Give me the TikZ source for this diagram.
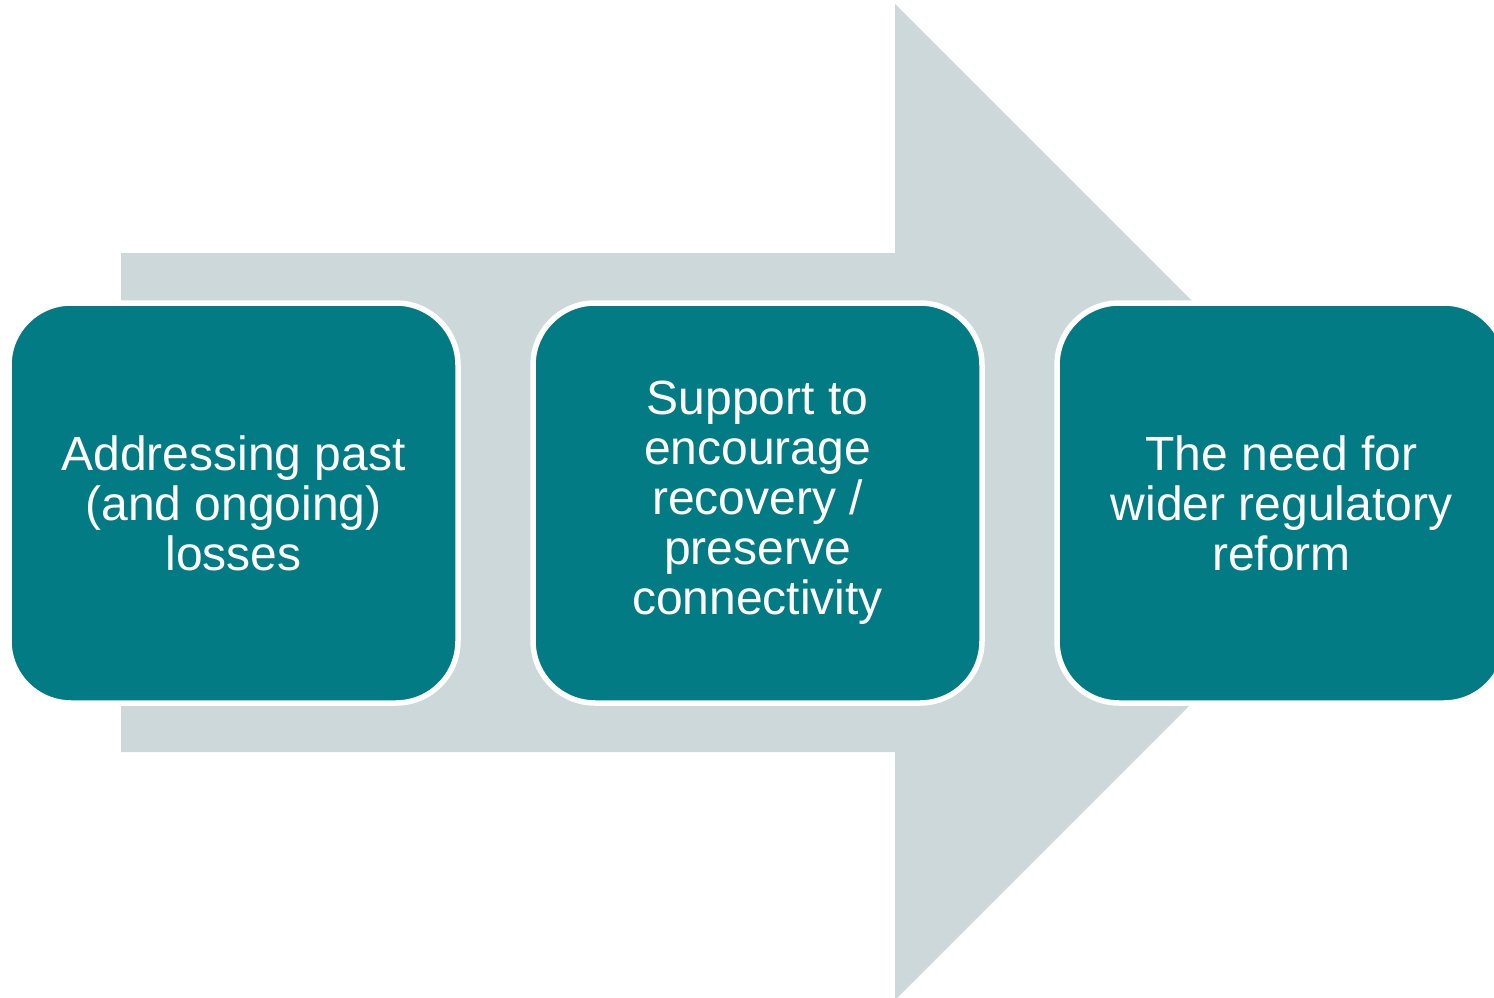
\documentclass[tikz,border=0pt]{standalone}
\usepackage{fontspec}
\setmainfont{Liberation Sans}
\definecolor{stageteal}{HTML}{027B85}
\definecolor{arrowgrey}{HTML}{CDD8DA}
\begin{document}
\begin{tikzpicture}[x=1pt,y=-1pt,
  stagebox/.style={rectangle, rounded corners=62pt, fill=stageteal, draw=white,
    line width=5.5pt, minimum width=449pt, minimum height=400pt,
    inner sep=0pt, align=center, text=white,
    font=\fontsize{48}{50}\selectfont}]
  \useasboundingbox (0,0) rectangle (1494,998);
  \clip (0,0) rectangle (1494,998);
  % big block arrow behind the stages
  \fill[arrowgrey] (121,253) -- (895,253) -- (895,4) -- (1393,502)
    -- (895,1000) -- (895,752) -- (121,752) -- cycle;
  % the three stages
  \node[stagebox] (past) at (233.5,503) {Addressing past\\(and ongoing)\\losses};
  \node[stagebox] (support) at (757.5,503) {Support to\\encourage\\recovery /\\preserve\\connectivity};
  \node[stagebox] (reform) at (1281.5,503) {The need for\\wider regulatory\\reform};
\end{tikzpicture}
\end{document}
